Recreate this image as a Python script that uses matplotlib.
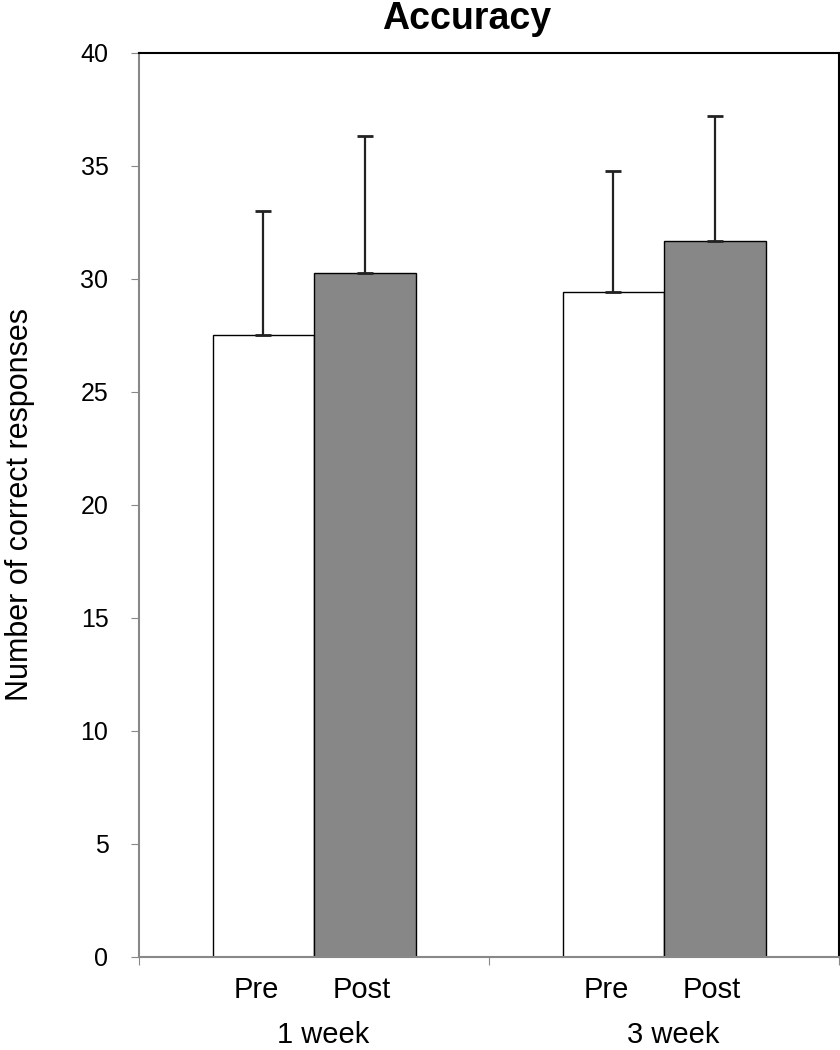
import numpy as np
import matplotlib.pyplot as plt

plt.rcParams['font.family'] = ['Liberation Sans', 'DejaVu Sans']

groups = ['1 week', '3 week']
conditions = ['Pre', 'Post']
pre_means = [27.5, 29.4]
post_means = [30.25, 31.65]
pre_err = [5.5, 5.35]
post_err = [6.05, 5.55]

fig = plt.figure(figsize=(8.4, 10.5), dpi=100)
ax = fig.add_axes([0.1655, 0.0886, 0.8335, 0.8612])

x = np.arange(len(groups))
w = 0.29
ax.bar(x - w / 2, pre_means, w, color='white', edgecolor='black', linewidth=1.0, zorder=2)
ax.bar(x + w / 2, post_means, w, color='#878787', edgecolor='black', linewidth=1.0, zorder=2)
ax.errorbar(x - w / 2, pre_means, yerr=[np.zeros(2), pre_err], fmt='none',
            ecolor='#222222', elinewidth=1.6, capsize=6, capthick=2, zorder=3)
ax.errorbar(x + w / 2, post_means, yerr=[np.zeros(2), post_err], fmt='none',
            ecolor='#222222', elinewidth=1.6, capsize=6, capthick=2, zorder=3)

ax.set_xlim(-0.5, 1.5)
ax.set_ylim(0, 40)
ax.set_yticks(np.arange(0, 41, 5))
ax.tick_params(axis='y', labelsize=18, length=6, color='#888888', direction='out', pad=16)

ax.set_xticks([-0.5, 0.5, 1.5])
ax.set_xticklabels([])
ax.tick_params(axis='x', length=6, color='#888888', direction='out')

for s in ['left', 'bottom']:
    ax.spines[s].set_color('#888888')
    ax.spines[s].set_linewidth(1.5)
for s in ['top', 'right']:
    ax.spines[s].set_color('black')
    ax.spines[s].set_linewidth(1.5)

for i in x:
    ax.text(i - w / 2 - 0.02, -1.45, conditions[0], ha='center', va='center', fontsize=21)
    ax.text(i + w / 2 - 0.01, -1.45, conditions[1], ha='center', va='center', fontsize=21)
    ax.text(i + 0.025, -3.45, groups[i], ha='center', va='center', fontsize=21)

ax.set_ylabel('Number of correct responses', fontsize=22)
ax.yaxis.set_label_coords(-0.148, 0.5)
fig.text(467 / 840, 1 - 29 / 1050, 'Accuracy', ha='center', va='baseline',
         fontsize=27, fontweight='bold')

fig.savefig('out.png', dpi=100)
